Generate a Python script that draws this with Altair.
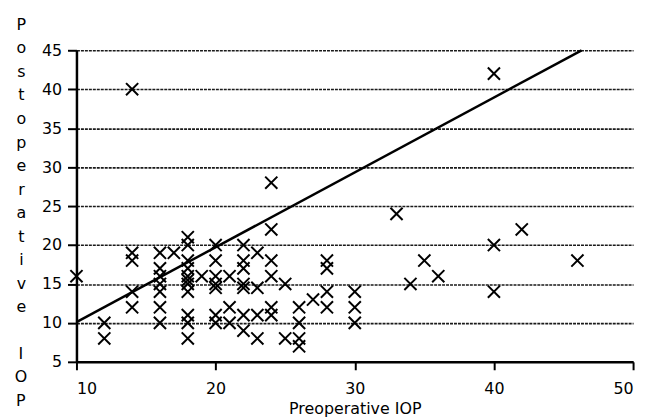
import altair as alt
import pandas as pd

# Scatter data: preoperative IOP (x) vs postoperative IOP (y)
pre_iop = [10,
           12, 12,
           14, 14, 14, 14, 14,
           16, 16, 16, 16, 16, 16, 16,
           17,
           18, 18, 18, 18, 18, 18, 18, 18, 18, 18, 18,
           19,
           20, 20, 20, 20, 20, 20, 20,
           21, 21, 21,
           22, 22, 22, 22, 22, 22, 22,
           23, 23, 23, 23,
           24, 24, 24, 24, 24, 24,
           25, 25,
           26, 26, 26, 26,
           27,
           28, 28, 28, 28,
           30, 30, 30,
           33, 34, 35, 36,
           40, 40, 40,
           42, 46]
post_iop = [16,
            10, 8,
            40, 19, 18, 14, 12,
            19, 17, 16, 15, 14, 12, 10,
            19,
            21, 20, 18, 17, 16, 15.5, 15, 14, 11, 10, 8,
            16,
            20, 18, 16, 15, 14.5, 11, 10,
            16, 12, 10,
            20, 18, 17, 15, 14.5, 11, 9,
            19, 14.5, 11, 8,
            28, 22, 18, 16, 12, 11,
            15, 8,
            12, 10, 8, 7,
            13,
            18, 17, 14, 12,
            14, 12, 10,
            24, 15, 18, 16,
            42, 20, 14,
            22, 18]

# Reference line
line_x = [10, 46.3]
line_y = [10.1, 45]

# Vertical (stacked-letter) y-axis title: "Postoperative" + gap + "IOP"
y_title_top = ["P", "o", "s", "t", "o", "p", "e", "r", "a", "t", "i", "v", "e"]
y_title_bottom = ["I", "O", "P"]
x_ticks = [10, 20, 30, 40, 50]
y_ticks = [5, 10, 15, 20, 25, 30, 35, 40, 45]

pts = pd.DataFrame({"pre": pre_iop, "post": post_iop})
ln = pd.DataFrame({"pre": line_x, "post": line_y})

FONT = "DejaVu Sans"
LH = 23.7

xscale = alt.Scale(domain=[10, 50], nice=False, zero=False)
yscale = alt.Scale(domain=[5, 45], nice=False, zero=False)

xaxis = alt.Axis(values=x_ticks, grid=False, tickSize=8, tickWidth=2,
                 tickColor="black", domainColor="black", domainWidth=2.5,
                 labelFont=FONT, labelFontSize=16, labelColor="black", labelPadding=11,
                 labelOverlap=False,
                 title="Preoperative IOP", titleFont=FONT, titleFontSize=16,
                 titleFontWeight="normal", titleColor="black",
                 titleBaseline="alphabetic", titleY=52)
yaxis = alt.Axis(values=y_ticks, grid=True, labelOverlap=False,
                 gridColor="#1a1a1a", gridWidth=1.6, gridDash=[3, 1],
                 tickSize=9, tickWidth=2, tickColor="black",
                 domainColor="black", domainWidth=2.5,
                 labelFont=FONT, labelFontSize=16, labelColor="black", labelPadding=6,
                 title=y_title_top, titleAngle=0, titleFont=FONT, titleFontSize=16,
                 titleFontWeight="normal", titleColor="black",
                 titleAlign="center", titleBaseline="alphabetic",
                 titleLineHeight=LH, titleX=-56, titleY=-21)

points = alt.Chart(pts).mark_point(
    shape="M-1,-1L1,1M-1,1L1,-1", filled=False, stroke="black",
    strokeWidth=2, size=150, opacity=1
).encode(
    x=alt.X("pre:Q", scale=xscale, axis=xaxis),
    y=alt.Y("post:Q", scale=yscale, axis=yaxis),
)

line = alt.Chart(ln).mark_line(color="black", strokeWidth=2.5).encode(
    x=alt.X("pre:Q", scale=xscale, axis=xaxis),
    y=alt.Y("post:Q", scale=yscale, axis=yaxis),
)

iop_label = alt.Chart(pd.DataFrame({"k": [0]})).mark_text(
    text=y_title_bottom, font=FONT, fontSize=16, color="black",
    align="center", baseline="alphabetic", lineHeight=LH
).encode(
    x=alt.value(-56),
    y=alt.value(-21 + 14 * LH),
)

chart = alt.layer(points, line, iop_label).properties(
    width=561, height=314,
    padding={"left": 69, "top": 41, "right": 10, "bottom": 56},
    autosize=alt.AutoSizeParams(type="none"),
).configure_view(stroke=None)

chart.save("out.html", embed_options={"renderer": "svg", "actions": False})
